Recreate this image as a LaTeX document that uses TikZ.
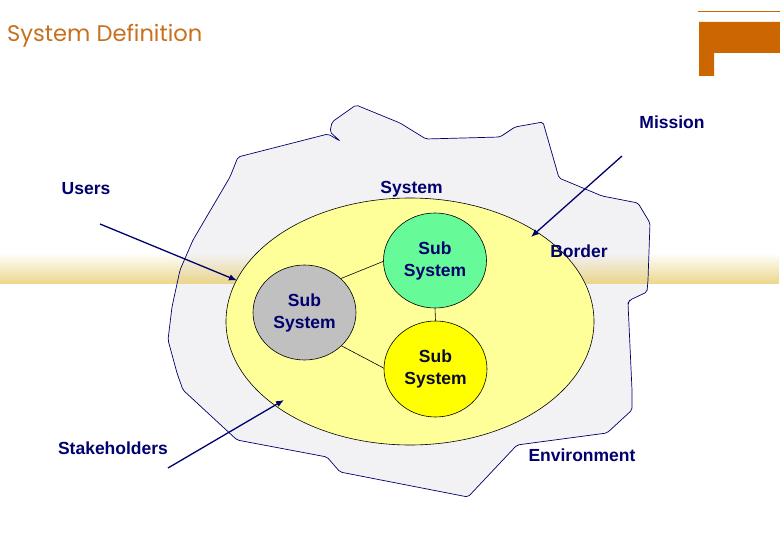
\documentclass[tikz,border=0pt]{standalone}
\usepackage{fontspec}
\setmainfont{Liberation Sans}
\newfontfamily\titlefont{Poppins}
\usetikzlibrary{shapes.geometric,arrows.meta,fadings}
\definecolor{navy}{RGB}{0,0,110}
\definecolor{darktext}{RGB}{10,10,50}
\definecolor{orng}{RGB}{204,102,0}
\definecolor{titlecol}{RGB}{200,112,30}
\definecolor{blobfill}{RGB}{242,242,245}
\definecolor{sysyellow}{RGB}{255,255,153}
\definecolor{subgreen}{RGB}{102,250,153}
\definecolor{subgray}{RGB}{192,192,192}
\definecolor{subyellow}{RGB}{255,255,0}
\definecolor{bandtan}{RGB}{234,210,125}
\tikzfading[name=bandfade, top color=transparent!100, middle color=transparent!70, bottom color=transparent!10]
\newcommand\blobshape{(238,157) -- (328,134) -- (340,141) -- (330,132) -- (332,122) -- (356,105) -- (400,123) -- (426,139) -- (500,137) -- (515,127) -- (543,122) -- (559,178) -- (602,196) -- (638,203) -- (650,223) -- (648,280) -- (647,292) -- (630,300) -- (628,303) -- (632,390) -- (632,410) -- (607,433) -- (517,445) -- (468,497) -- (340,472) -- (327,457) -- (237,440) -- (183,390) -- (177,373) -- (168,340) -- (172,307) -- (180,270) -- (193,240) -- (230,177) -- cycle}
\begin{document}
\begin{tikzpicture}[x=1pt,y=-1pt,
  lbl/.style={font=\fontsize{17.5}{22}\selectfont\bfseries, text=navy, inner sep=0pt},
  subsys/.style={ellipse, draw=black, line width=0.6pt, inner sep=0pt, align=center,
    font=\fontsize{17.5}{22}\selectfont\bfseries, text=navy, minimum width=103pt, minimum height=95pt},
  arr/.style={draw=navy, line width=1.3pt, -{Latex[length=8pt,width=6.5pt]}},
  link/.style={draw=black, line width=0.6pt}]
\useasboundingbox (0,0) rectangle (780,540);
\fill[white] (0,0) rectangle (780,540);
% title and decoration
\node[anchor=base west, text=titlecol, font=\titlefont\fontsize{22.6}{22}\selectfont, inner sep=0pt] (title) at (7,42) {System Definition};
\draw[orng, line width=0.8pt] (698,11) -- (780,11);
\fill[orng] (699,22) -- (780,22) -- (780,53) -- (714,53) -- (714,76) -- (699,76) -- cycle;
% environment blob
\path[fill=blobfill, rounded corners=2pt] \blobshape;
\fill[bandtan, path fading=bandfade] (0,253) rectangle (780,284);
\draw[navy, line width=0.7pt, rounded corners=2pt] \blobshape;
% system ellipse
\node[ellipse, draw=black, line width=0.6pt, fill=sysyellow, minimum width=368pt, minimum height=247pt, inner sep=0pt] (sys) at (410,321.5) {};
% sub systems
\node[subsys, fill=subgreen] (green) at (435,260.5) {Sub\\System};
\node[subsys, fill=subgray] (gray) at (304.5,312.5) {Sub\\System};
\node[subsys, fill=subyellow, text=darktext, minimum height=96pt] (yel) at (435.5,369) {Sub\\System};
\draw[link] (gray.43) -- (green.181);
\draw[link] (gray.-42) -- (yel.179);
\draw[link] (green.south) -- (yel.north);
% labels
\node[lbl] (users) at (86,189) {Users};
\node[lbl] (system) at (411.5,189) {System};
\node[lbl] (mission) at (672,122) {Mission};
\node[lbl] (border) at (579,251) {Border};
\node[lbl] (stake) at (113,448) {Stakeholders};
\node[lbl] (env) at (582,455) {Environment};
% arrows
\coordinate (u1) at (100,224);
\coordinate (u2) at (237,280.5);
\coordinate (m1) at (622,156);
\coordinate (m2) at (531,237);
\coordinate (s1) at (168,468);
\coordinate (s2) at (284,400);
\draw[arr] (u1) -- (u2);
\draw[arr] (m1) -- (m2);
\draw[arr] (s1) -- (s2);
\end{tikzpicture}
\end{document}
